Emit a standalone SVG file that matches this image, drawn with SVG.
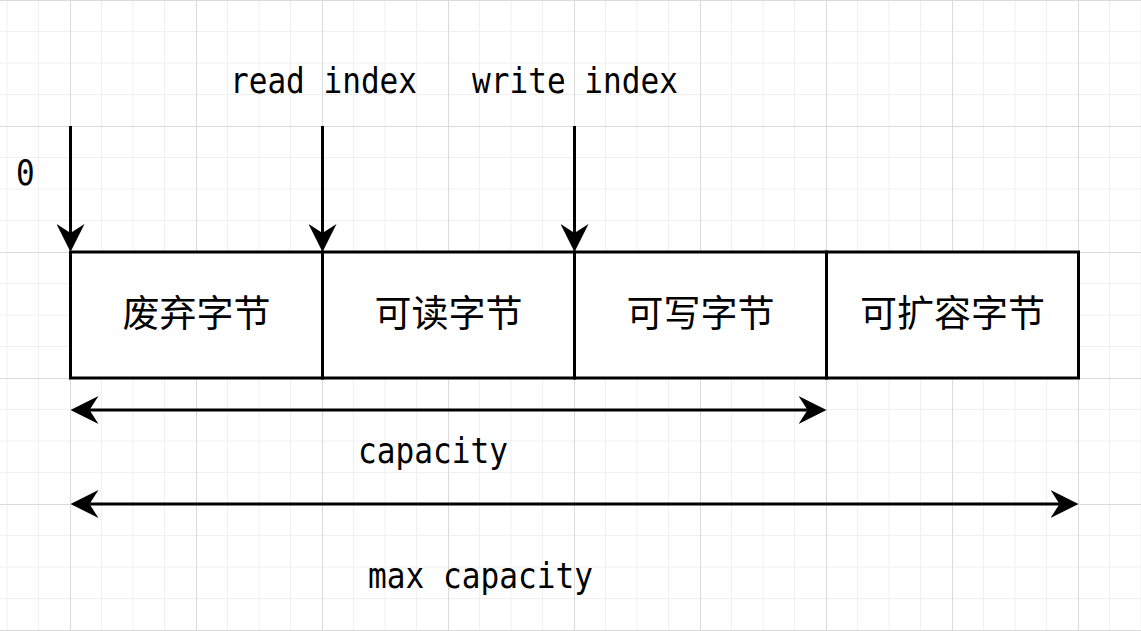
<svg xmlns="http://www.w3.org/2000/svg" width="1141" height="631" viewBox="0 0 1141 631">
  <defs>
    <pattern id="grid" patternUnits="userSpaceOnUse" x="70" y="0" width="126" height="126">
      <path d="M31.5,0V126M63,0V126M94.5,0V126M0,31.5H126M0,63H126M0,94.5H126" stroke="#f0f0f0" stroke-width="1" fill="none"/>
      <path d="M0.5,0V126M0,0.5H126" stroke="#dadada" stroke-width="1" fill="none"/>
    </pattern>
    <marker id="arr" viewBox="0 0 28 28" refX="9" refY="14" markerWidth="28" markerHeight="28" markerUnits="userSpaceOnUse" orient="auto-start-reverse">
      <path d="M28,14 L0,0 L9,14 L0,28 Z" fill="#000"/>
    </marker>
    <style>
      .lbl { font-family: "DejaVu Sans Mono", "Liberation Mono", monospace; font-size: 35px; fill: #000; }
      .cell { fill: #fff; stroke: #000; stroke-width: 3; }
      .ctext { font-family: "Noto Sans CJK SC", "Noto Sans", sans-serif; font-size: 37px; fill: #000; text-anchor: middle; }
      .conn { stroke: #000; stroke-width: 3; fill: none; }
    </style>
  </defs>
  <rect x="0" y="0" width="1141" height="631" fill="#fff"/>
  <rect x="-0.5" y="-0.5" width="1142" height="632" fill="url(#grid)"/>

  <g id="label-zero"><text class="lbl" x="16" y="185" textLength="18.7" lengthAdjust="spacingAndGlyphs">0</text></g>
  <g id="label-read-index"><text class="lbl" x="230" y="93" textLength="187" lengthAdjust="spacingAndGlyphs">read index</text></g>
  <g id="label-write-index"><text class="lbl" x="472" y="93" textLength="206" lengthAdjust="spacingAndGlyphs">write index</text></g>

  <g id="cell-discarded">
    <rect class="cell" x="70.5" y="252" width="252" height="126"/>
    <text class="ctext" x="196.5" y="327">废弃字节</text>
  </g>
  <g id="cell-readable">
    <rect class="cell" x="322.5" y="252" width="252" height="126"/>
    <text class="ctext" x="448.5" y="327">可读字节</text>
  </g>
  <g id="cell-writable">
    <rect class="cell" x="574.5" y="252" width="252" height="126"/>
    <text class="ctext" x="700.5" y="327">可写字节</text>
  </g>
  <g id="cell-expandable">
    <rect class="cell" x="826.5" y="252" width="252" height="126"/>
    <text class="ctext" x="952.5" y="327">可扩容字节</text>
  </g>

  <g id="label-capacity"><text class="lbl" x="358" y="463" textLength="150" lengthAdjust="spacingAndGlyphs">capacity</text></g>
  <g id="label-max-capacity"><text class="lbl" x="368" y="588" textLength="225" lengthAdjust="spacingAndGlyphs">max capacity</text></g>

  <g id="connectors">
    <path class="conn" d="M70.5,126 V233" marker-end="url(#arr)"/>
    <path class="conn" d="M322.5,126 V233" marker-end="url(#arr)"/>
    <path class="conn" d="M574.5,126 V233" marker-end="url(#arr)"/>
    <path class="conn" d="M89.5,410 H807.5" marker-start="url(#arr)" marker-end="url(#arr)"/>
    <path class="conn" d="M89.5,504 H1059.5" marker-start="url(#arr)" marker-end="url(#arr)"/>
  </g>
</svg>
